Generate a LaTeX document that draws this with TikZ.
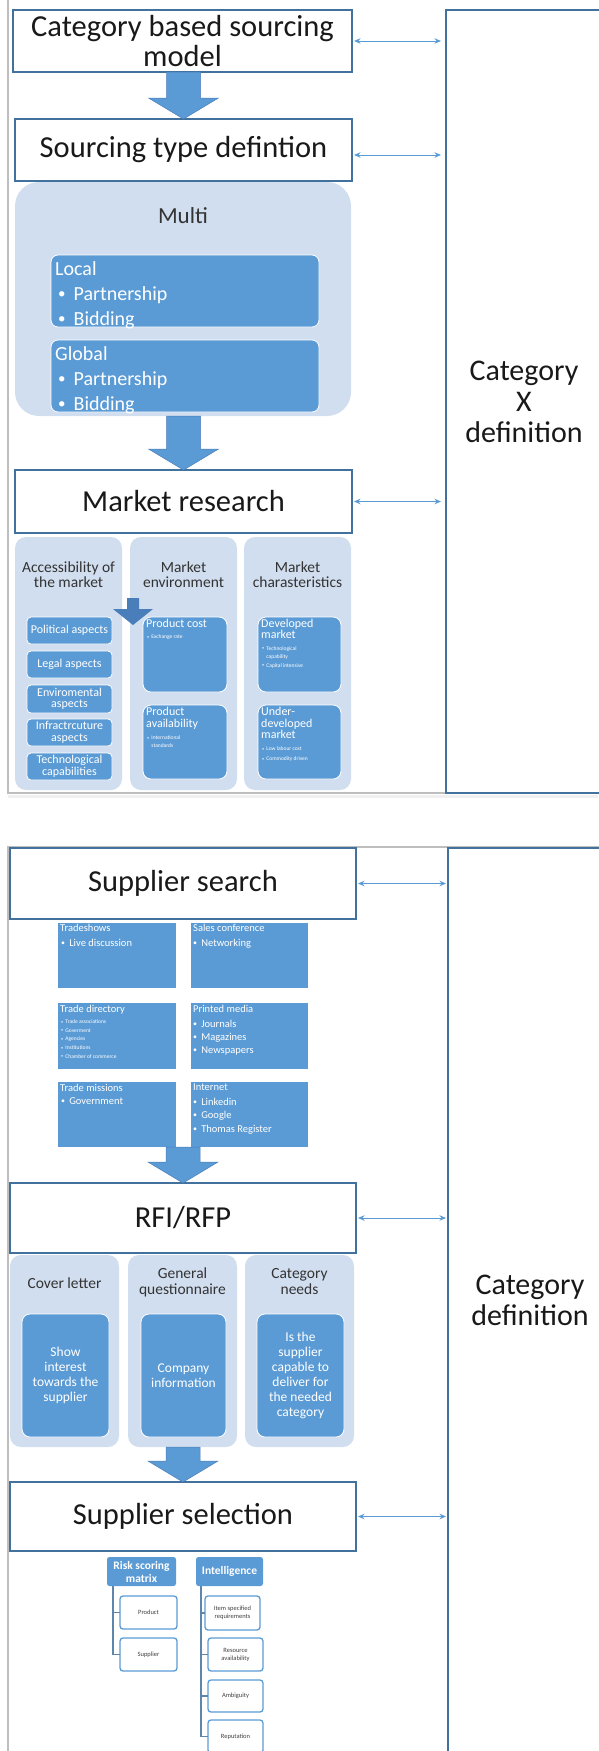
\documentclass[tikz,border=0pt]{standalone}
\usepackage{fontspec}
\setmainfont{Carlito}
\usetikzlibrary{arrows.meta,calc}
\definecolor{frameblue}{RGB}{65,113,156}
\definecolor{midblue}{RGB}{91,155,213}
\definecolor{lightblue}{RGB}{209,222,239}
\definecolor{arrowblue}{RGB}{74,126,187}
\definecolor{panelgray}{RGB}{190,190,190}
\newcommand{\fs}[2]{\fontsize{#1}{#2}\selectfont}
% optional style, name, x1, y1, x2, y2, text
\newcommand{\bx}[7][]{%
  \pgfmathsetmacro\bxcx{(#3+#5)/2}\pgfmathsetmacro\bxcy{(#4+#6)/2}%
  \pgfmathsetmacro\bxw{#5-#3}\pgfmathsetmacro\bxh{#6-#4}%
  \node[#1, minimum width=\bxw pt, minimum height=\bxh pt] (#2) at (\bxcx,\bxcy) {#7};}
\newcommand{\blockarr}[3]{% name, from, tip
  \coordinate (#1s) at (#2 -| #3);
  \path[blockarrow] ($(#1s)+(-17,0)$) -- ($(#1s)+(17,0)$) -- ($(#3)+(17,-21)$) -- ($(#3)+(35,-21)$) -- (#3) -- ($(#3)+(-35,-21)$) -- ($(#3)+(-17,-21)$) -- cycle;}
\newcommand{\bul}{\raisebox{0.07em}{\scalebox{0.75}{\textbullet}}\hspace{0.4em}}
\begin{document}
\begin{tikzpicture}[x=1pt,y=-1pt,
  mainbox/.style={draw=frameblue,line width=1.4pt,fill=white,inner sep=0pt,outer sep=0pt,align=center,text=black!90,font=\fs{30.5}{30}},
  sidebox/.style={draw=frameblue,line width=1.6pt,inner sep=0pt,outer sep=0pt,align=center,text=black!90,font=\fs{30}{31}},
  container/.style={fill=lightblue,rounded corners=11pt,inner sep=0pt,outer sep=0pt},
  bluebox/.style={fill=midblue,draw=white,line width=0.8pt,rounded corners=4pt,inner sep=0pt,outer sep=0pt,text=white,align=center},
  gridbox/.style={fill=midblue,draw=white,line width=0.6pt,inner sep=0pt,outer sep=0pt},
  wtext/.style={text=white,inner sep=0pt,anchor=north west,align=left},
  ttext/.style={text=black!80,inner sep=0pt,align=center},
  dbl/.style={draw=midblue,line width=1pt,<->,>={Stealth[length=6.5pt,width=5.5pt]}},
  blockarrow/.style={fill=midblue,draw=arrowblue,line width=0.5pt},
  treehead/.style={fill=midblue,rounded corners=2.5pt,inner sep=0pt,outer sep=0pt,text=white,align=center,font=\bfseries\fs{11.5}{13}},
  treeleaf/.style={fill=white,draw=midblue,line width=1.3pt,rounded corners=3pt,inner sep=0pt,outer sep=0pt,align=center,text=black!75,font=\fs{6.5}{8}},
  treeline/.style={draw=frameblue!85,line width=1.8pt},
  panelframe/.style={draw=panelgray,line width=1.3pt}]
\useasboundingbox (0,0) rectangle (598,1751);

% ---------- panel frames ----------
\draw[panelframe] (8,-2) -- (8,793) -- (446,793);
\fill[gray!12] (8,794.5) rectangle (598,798);
\draw[panelframe] (604,847) -- (8,847) -- (8,1760);

% ---------- top panel ----------
\bx[sidebox]{r1}{446}{10}{602}{793}{Category\\X\\definition}
\bx[mainbox]{b1}{13}{10}{352}{72}{Category based sourcing\\model}
\bx[mainbox]{b2}{15}{119}{352}{181}{Sourcing type defintion}
\bx[container,rounded corners=24pt]{multi}{15}{182}{351}{416}{}
\node[ttext,font=\fs{23}{24}] (multit) at (183,216) {Multi};
\bx[bluebox,rounded corners=7pt]{local}{51}{255}{319}{327}{}
\node[wtext,font=\fs{20}{25}] (localt) at (55,261) {Local\\\hspace*{3pt}\bul Partnership\\\hspace*{3pt}\bul Bidding};
\bx[bluebox,rounded corners=7pt]{global}{51}{340}{319}{412}{}
\node[wtext,font=\fs{20}{25}] (globalt) at (55,346) {Global\\\hspace*{3pt}\bul Partnership\\\hspace*{3pt}\bul Bidding};
\bx[mainbox]{mr}{15}{470}{352}{533}{Market research}

\blockarr{a1}{b1.south}{b2.north}
\blockarr{a2}{multi.south}{mr.north}

% market research columns
\bx[container]{mc1}{15}{537}{122}{790}{}
\bx[container]{mc2}{130}{537}{237}{790}{}
\bx[container]{mc3}{244}{537}{351}{790}{}
\node[ttext,font=\fs{15.5}{15}] (mt1) at (68.5,574.5) {Accessibility of\\the market};
\node[ttext,font=\fs{15.5}{15}] (mt2) at (183.5,574.5) {Market\\environment};
\node[ttext,font=\fs{15.5}{15}] (mt3) at (297.5,574.5) {Market\\charasteristics};

\bx[bluebox,font=\fs{12}{11.5}]{pa}{27}{617}{112}{644}{Political aspects}
\bx[bluebox,font=\fs{12}{11.5}]{la}{27}{651}{112}{678}{Legal aspects}
\bx[bluebox,font=\fs{12}{11.5}]{ea}{27}{685}{112}{713}{Enviromental\\aspects}
\bx[bluebox,font=\fs{12}{11.5}]{ia}{27}{719}{112}{746}{Infractrcuture\\aspects}
\bx[bluebox,font=\fs{12}{11.5}]{tc}{27}{753}{112}{780}{Technological\\capabilities}

\bx[bluebox,rounded corners=8pt]{pc}{143}{617}{227}{692}{}
\node[wtext,font=\fs{12}{11.5}] (pct) at (146,618.5) {Product cost};
\node[wtext,font=\fs{5.5}{8}] (pcb) at (147,634.5) {\bul Exchange rate};
\bx[bluebox,rounded corners=8pt]{pav}{143}{705}{227}{779}{}
\node[wtext,font=\fs{12}{11.5}] (pavt) at (146,707) {Product\\availability};
\node[wtext,font=\fs{5.5}{8}] (pavb) at (147,735.5) {\bul International\\\hphantom{\bul}standards};
\bx[bluebox,rounded corners=8pt]{dm}{258}{617}{341}{692}{}
\node[wtext,font=\fs{12}{11.5}] (dmt) at (261,618.5) {Developed\\market};
\node[wtext,font=\fs{5.5}{8.5}] (dmb) at (262,646) {\bul Technological\\\hphantom{\bul}capability\\\bul Capital intensive};
\bx[bluebox,rounded corners=8pt]{um}{258}{705}{341}{779}{}
\node[wtext,font=\fs{12}{11.5}] (umt) at (261,707) {Under-\\developed\\market};
\node[wtext,font=\fs{5.5}{10}] (umb) at (262,746.5) {\bul Low labour cost\\\bul Commodity driven};

% small stray arrow
\path[fill=arrowblue] (127,598) -- (139,598) -- (139,609) -- (153,609) -- (133,625) -- (113,609) -- (127,609) -- cycle;

\draw[dbl,shorten <=2pt,shorten >=5pt] (b1.east) -- (b1.east -| r1.west);
\draw[dbl,shorten <=2pt,shorten >=5pt] ([yshift=-5pt]b2.east) -- ([yshift=-5pt]b2.east -| r1.west);
\draw[dbl,shorten <=2pt,shorten >=5pt] (mr.east) -- (mr.east -| r1.west);

% ---------- bottom panel ----------
\bx[sidebox]{r2}{448}{848}{612}{1752}{Category\\definition}
\bx[mainbox]{ss}{10}{848}{356}{919}{Supplier search}

\bx[gridbox]{g1}{57}{922}{176}{988}{}
\bx[gridbox]{g2}{190}{922}{308}{988}{}
\bx[gridbox]{g3}{57}{1002}{176}{1069}{}
\bx[gridbox]{g4}{190}{1002}{308}{1069}{}
\bx[gridbox]{g5}{57}{1081}{176}{1147}{}
\bx[gridbox]{g6}{190}{1081}{308}{1147}{}
\node[wtext,font=\fs{10.5}{13.5}] (g1t) at (60,923.5) {Tradeshows};
\node[wtext,font=\fs{10.5}{13.5}] (g1b) at (61,938.5) {\bul Live discussion};
\node[wtext,font=\fs{10.5}{13.5}] (g2t) at (193,923.5) {Sales conference};
\node[wtext,font=\fs{10.5}{13.5}] (g2b) at (193,938.5) {\bul Networking};
\node[wtext,font=\fs{10.5}{13.5}] (g3t) at (60,1004.5) {Trade directory};
\node[wtext,font=\fs{5.5}{8.7}] (g3b) at (61,1019.5) {\bul Trade associations\\\bul Goverment\\\bul Agencies\\\bul Institutions\\\bul Chamber of commerce};
\node[wtext,font=\fs{10.5}{13.3}] (g4t) at (193,1004.5) {Printed media};
\node[wtext,font=\fs{10.5}{13.3}] (g4b) at (193,1019.5) {\bul Journals\\\bul Magazines\\\bul Newspapers};
\node[wtext,font=\fs{10.5}{13.5}] (g5t) at (60,1083.5) {Trade missions};
\node[wtext,font=\fs{10.5}{13.5}] (g5b) at (61,1097.5) {\bul Government};
\node[wtext,font=\fs{10.5}{13.5}] (g6t) at (193,1083.5) {Internet};
\node[wtext,font=\fs{10.5}{13.5}] (g6b) at (193,1097.5) {\bul Linkedin\\\bul Google\\\bul Thomas Register};

\bx[mainbox]{rfi}{10}{1183}{356}{1253}{RFI/RFP}
\coordinate (gmid) at ($(g5.south)!0.5!(g6.south)$);
\blockarr{a3}{gmid}{rfi.north}

\bx[container]{rc1}{10}{1255}{119}{1447}{}
\bx[container]{rc2}{128}{1255}{237}{1447}{}
\bx[container]{rc3}{245}{1255}{354}{1447}{}
\node[ttext,font=\fs{15.5}{16}] (rt1) at (64.5,1283) {Cover letter};
\node[ttext,font=\fs{15.5}{16}] (rt2) at (182.5,1282) {General\\questionnaire};
\node[ttext,font=\fs{15.5}{16}] (rt3) at (299.5,1282) {Category\\needs};
\bx[bluebox,rounded corners=8pt,font=\fs{13.5}{15}]{ri1}{22}{1314}{109}{1437}{Show\\interest\\towards the\\supplier}
\bx[bluebox,rounded corners=8pt,font=\fs{13.5}{15}]{ri2}{141}{1314}{226}{1437}{Company\\information}
\bx[bluebox,rounded corners=8pt,font=\fs{13.5}{15}]{ri3}{257}{1314}{344}{1437}{Is the\\supplier\\capable to\\deliver for\\the needed\\category}

\bx[mainbox]{ssel}{10}{1482}{356}{1551}{Supplier selection}
\blockarr{a4}{rc2.south}{ssel.north}

\draw[dbl,shorten <=2pt,shorten >=2pt] (ss.east) -- (ss.east -| r2.west);
\draw[dbl,shorten <=2pt,shorten >=2pt] (rfi.east) -- (rfi.east -| r2.west);
\draw[dbl,shorten <=2pt,shorten >=2pt] (ssel.east) -- (ssel.east -| r2.west);

% tree
\bx[treehead]{risk}{107}{1557}{176}{1586}{Risk scoring\\matrix}
\bx[treehead]{intel}{196}{1557}{263}{1586}{Intelligence}
\bx[treeleaf]{prod}{120}{1596}{177}{1629}{Product}
\bx[treeleaf]{supp}{120}{1638}{177}{1671}{Supplier}
\bx[treeleaf]{item}{205}{1596}{260}{1630}{Item specified\\requirements}
\bx[treeleaf]{res}{208}{1638}{263}{1671}{Resource\\availability}
\bx[treeleaf]{amb}{208}{1680}{263}{1712}{Ambiguity}
\bx[treeleaf]{rep}{208}{1720}{263}{1753}{Reputation}
\draw[treeline] ([xshift=6pt]risk.south west) |- (prod.west);
\draw[treeline] ([xshift=6pt]risk.south west) |- (supp.west);
\draw[treeline] ([xshift=5pt]intel.south west) |- (item.west);
\draw[treeline] ([xshift=5pt]intel.south west) |- (res.west);
\draw[treeline] ([xshift=5pt]intel.south west) |- (amb.west);
\draw[treeline] ([xshift=5pt]intel.south west) |- (rep.west);
\end{tikzpicture}
\end{document}
